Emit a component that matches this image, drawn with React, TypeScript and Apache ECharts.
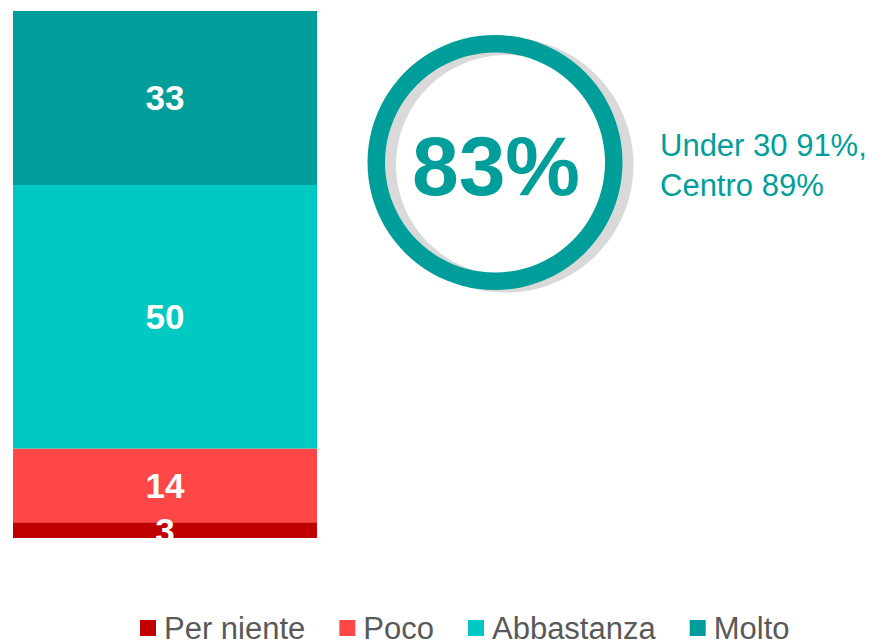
import React, { useEffect, useRef } from "react";
import * as echarts from "echarts";

const categories = ["Totale"];
const seriesNames = ["Per niente", "Poco", "Abbastanza", "Molto"];
const perNiente = [3];
const poco = [14];
const abbastanza = [50];
const molto = [33];
const colors = ["#C00000", "#FF4747", "#00C8C3", "#009E9A"];
const bigValue = "83%";
const sideNote = "Under 30 91%,\nCentro 89%";

export default function App() {
  const ref = useRef<HTMLDivElement>(null);
  useEffect(() => {
    if (!ref.current) return;
    const chart = echarts.init(ref.current, null, { renderer: "svg" });
    const values = [perNiente, poco, abbastanza, molto];
    chart.setOption({
      animation: false,
      textStyle: { fontFamily: "Liberation Sans, Arial, sans-serif" },
      grid: { left: 13, top: 11, width: 304, height: 527 },
      xAxis: { type: "category", data: categories, show: false },
      yAxis: { type: "value", min: 0, max: 100, show: false },
      legend: {
        left: 135,
        top: 607,
        itemWidth: 16,
        itemHeight: 16,
        itemGap: 34,
        icon: "rect",
        data: seriesNames,
        textStyle: {
          color: "#595959",
          fontSize: 31,
          lineHeight: 32,
          padding: [0, 0, 0, 3],
          fontFamily: "Liberation Sans, Arial, sans-serif",
        },
      },
      series: seriesNames.map((name, i) => ({
        name,
        type: "bar",
        stack: "total",
        barWidth: "100%",
        data: values[i],
        itemStyle: { color: colors[i] },
        label: {
          show: true,
          position: "inside",
          color: "#FFFFFF",
          fontSize: 35,
          fontWeight: "bold",
          fontFamily: "Liberation Sans, Arial, sans-serif",
        },
      })),
      graphic: [
        {
          type: "ring",
          shape: { cx: 506, cy: 165, r: 127.5, r0: 110 },
          style: { fill: "#D9D9D9" },
          z: 1,
        },
        {
          type: "ring",
          shape: { cx: 495, cy: 162.5, r: 127.5, r0: 110 },
          style: { fill: "#009E9A" },
          z: 2,
        },
        {
          type: "text",
          x: 496,
          y: 166,
          z: 3,
          style: {
            text: bigValue,
            fill: "#009E9A",
            fontSize: 84,
            fontWeight: "bold",
            fontFamily: "Liberation Sans, Arial, sans-serif",
            textAlign: "center",
            textVerticalAlign: "middle",
          },
        },
        {
          type: "text",
          x: 660,
          y: 165,
          z: 3,
          style: {
            text: sideNote,
            fill: "#009E9A",
            fontSize: 31,
            lineHeight: 40,
            fontFamily: "Liberation Sans, Arial, sans-serif",
            textAlign: "left",
            textVerticalAlign: "middle",
          },
        },
      ],
    });
    return () => chart.dispose();
  }, []);
  return (
    <div
      ref={ref}
      style={{ position: "absolute", left: 0, top: 0, width: 877, height: 643 }}
    />
  );
}
